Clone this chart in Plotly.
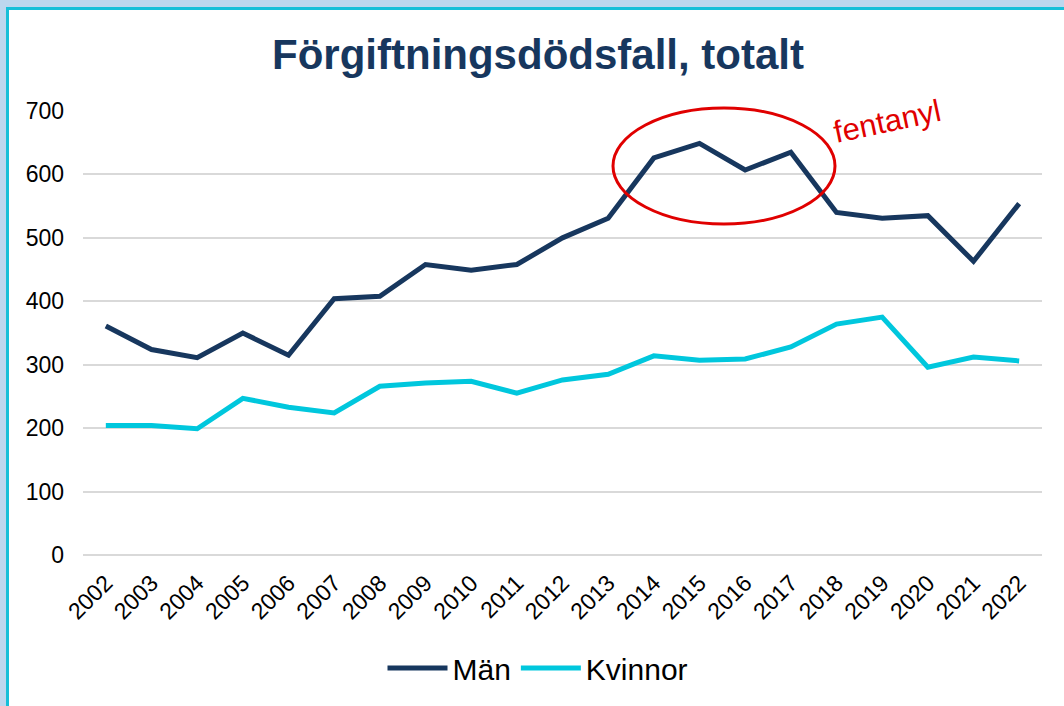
import plotly.graph_objects as go

years = [str(y) for y in range(2002, 2023)]
man = [361, 324, 311, 350, 315, 404, 408, 458, 449, 458, 500, 531,
       626, 649, 607, 635, 540, 531, 535, 463, 554]
kvinnor = [204, 204, 199, 247, 233, 224, 266, 271, 274, 255, 276, 285,
           314, 307, 309, 328, 364, 375, 296, 312, 306]
y_ticks = [0, 100, 200, 300, 400, 500, 600, 700]

W, H = 1064, 706
L, R, T, B = 83, 22, 111, 151
PW, PH = W - L - R, H - T - B


def px2x(px):
    return (px - L) / PW


def px2y(py):
    return (H - B - py) / PH


FONT = "Liberation Sans, Arial, sans-serif"
NAVY = "#17375E"
CYAN = "#00C7DD"
RED = "#E00000"
GRID = "#D9D9D9"

fig = go.Figure()
fig.add_trace(go.Scatter(x=years, y=man, name="Män", mode="lines",
                         line=dict(color=NAVY, width=5)))
fig.add_trace(go.Scatter(x=years, y=kvinnor, name="Kvinnor", mode="lines",
                         line=dict(color=CYAN, width=5)))

shapes = [
    # page frame
    dict(type="rect", xref="paper", yref="paper", layer="below",
         x0=px2x(0), x1=px2x(W), y0=px2y(0), y1=px2y(7),
         fillcolor="#BDD7EE", line_width=0),
    dict(type="rect", xref="paper", yref="paper", layer="below",
         x0=px2x(0), x1=px2x(6), y0=px2y(0), y1=px2y(H),
         fillcolor="#BDD7EE", line_width=0),
    dict(type="rect", xref="paper", yref="paper", layer="below",
         x0=px2x(6), x1=px2x(W), y0=px2y(7), y1=px2y(10),
         fillcolor="#17BFD8", line_width=0),
    dict(type="rect", xref="paper", yref="paper", layer="below",
         x0=px2x(6), x1=px2x(9), y0=px2y(7), y1=px2y(H),
         fillcolor="#17BFD8", line_width=0),
    # fentanyl ellipse
    dict(type="circle", xref="paper", yref="paper", layer="above",
         x0=px2x(613), x1=px2x(835), y0=px2y(224), y1=px2y(108),
         line=dict(color=RED, width=3)),
]

fig.update_layout(
    width=W, height=H,
    margin=dict(l=L, r=R, t=T, b=B, autoexpand=False),
    paper_bgcolor="white", plot_bgcolor="white",
    font=dict(family=FONT, color="black"),
    title=dict(text="<b>Förgiftningsdödsfall, totalt</b>",
               font=dict(size=42, color=NAVY, family=FONT),
               x=538 / W, xanchor="center", xref="container",
               y=1 - 54 / H, yanchor="middle", yref="container"),
    xaxis=dict(type="category", range=[-0.5, len(years) - 0.5],
               tickangle=-45, tickfont=dict(size=23),
               showgrid=False, showline=False, zeroline=False,
               ticks="", ticklabelstandoff=9),
    yaxis=dict(range=[0, 700], tickvals=y_ticks, tickfont=dict(size=23),
               showgrid=True, gridcolor=GRID, gridwidth=1.5,
               zeroline=True, zerolinecolor=GRID, zerolinewidth=1.5,
               showline=False, ticks="", ticklabelstandoff=18),
    legend=dict(orientation="h", x=px2x(538), xanchor="center",
                y=px2y(668), yanchor="middle",
                font=dict(size=30), itemwidth=60),
    shapes=shapes,
    annotations=[dict(text="fentanyl", xref="paper", yref="paper",
                      x=px2x(887), y=px2y(122), xanchor="center",
                      yanchor="middle", showarrow=False,
                      textangle=-12, font=dict(size=31, color=RED))],
    showlegend=True,
)

fig.write_html("out.html",
               config={"displayModeBar": False},
               post_script="document.body.style.margin='0';"
                           "document.body.style.overflow='hidden';")
